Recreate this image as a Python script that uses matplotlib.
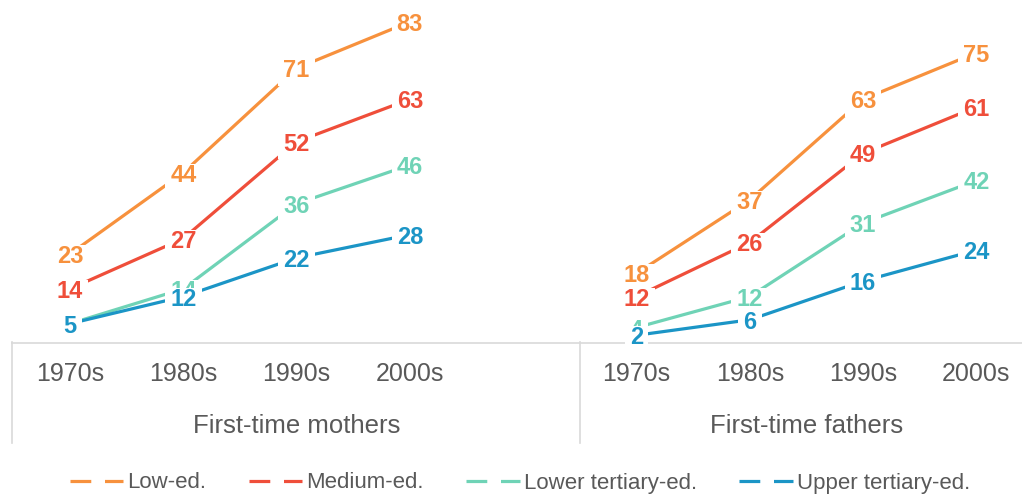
import matplotlib
matplotlib.use("Agg")
import matplotlib.pyplot as plt
from matplotlib.transforms import blended_transform_factory
from matplotlib.lines import Line2D
from matplotlib.path import Path

plt.rcParams['font.family'] = ['Liberation Sans', 'DejaVu Sans']

decades = ["1970s", "1980s", "1990s", "2000s"]
groups = ["First-time mothers", "First-time fathers"]
series_names = ["Low-ed.", "Medium-ed.", "Lower tertiary-ed.", "Upper tertiary-ed."]
colors = ["#F7913D", "#EF4E3A", "#6FD3B6", "#1B95C6"]

mothers_low = [23, 44, 71, 83]
mothers_medium = [14, 27, 52, 63]
mothers_lower_tert = [5, 14, 36, 46]
mothers_upper_tert = [5, 12, 22, 28]

fathers_low = [18, 37, 63, 75]
fathers_medium = [12, 26, 49, 61]
fathers_lower_tert = [4, 12, 31, 42]
fathers_upper_tert = [2, 6, 16, 24]

mothers = [mothers_low, mothers_medium, mothers_lower_tert, mothers_upper_tert]
fathers = [fathers_low, fathers_medium, fathers_lower_tert, fathers_upper_tert]


def label_box(x0, y0, width, height, mutation_size):
    padx = 0.22 * mutation_size
    top = 0.0
    bottom = 0.15 * mutation_size
    verts = [(x0 - padx, y0 - bottom), (x0 + width + padx, y0 - bottom),
             (x0 + width + padx, y0 + height + top), (x0 - padx, y0 + height + top),
             (x0 - padx, y0 - bottom)]
    return Path(verts, closed=True)


W, H = 1022, 495
fig = plt.figure(figsize=(W / 100, H / 100), dpi=100)
fig.patch.set_facecolor("white")

unit = 113.3
x0px = 70
left_px = 12
base_px = 343
ypx = 3.87
ax = fig.add_axes([left_px / W, (H - base_px) / H, (W - left_px) / W, base_px / H])
ax.set_xlim((left_px - x0px) / unit, (W - x0px) / unit)
ax.set_ylim(0, base_px / ypx)

mx = [0, 1, 2, 3]
fx = [5, 6, 7, 8]

for i, (name, col) in enumerate(zip(series_names, colors)):
    for xs, vals in ((mx, mothers[i]), (fx, fathers[i])):
        ax.plot(xs, vals, color=col, lw=2.3, solid_capstyle='butt',
                zorder=2 + 2 * i, clip_on=False)
        for x, v in zip(xs, vals):
            ax.text(x, v, str(v), ha='center', va='center_baseline', fontsize=17,
                    fontweight='bold', color=col, zorder=3 + 2 * i,
                    bbox=dict(boxstyle=label_box, fc='white', ec='none'),
                    clip_on=False)

for s in ['top', 'right', 'left']:
    ax.spines[s].set_visible(False)
ax.spines['bottom'].set_color('#D9D9D9')
ax.spines['bottom'].set_linewidth(1.2)
ax.spines['bottom'].set_zorder(1)
ax.set_yticks([])
ax.set_xticks(mx + fx)
ax.set_xticklabels(decades + decades, fontsize=18, color='#595959')
ax.tick_params(axis='x', length=0, pad=14)

tr = blended_transform_factory(ax.transData, fig.transFigure)
for xs in (-0.512, 4.5):
    ax.plot([xs, xs], [1 - 342 / H, 1 - 443 / H], color='#D9D9D9', lw=1.2,
            transform=tr, clip_on=False, zorder=1)
for gx, g in zip((2, 6.5), groups):
    ax.text(gx, 1 - 426 / H, g, transform=tr, ha='center', va='center',
            fontsize=18.5, color='#595959')

lh = [Line2D([0], [0], color=c, lw=2.3, linestyle=(0, (6.5, 4.3))) for c in colors]
fig.legend(lh, series_names, loc='center', bbox_to_anchor=(520 / W, 1 - 483 / H),
           ncol=4, frameon=False, fontsize=16, handlelength=2.4,
           handletextpad=0.2, columnspacing=1.9, labelcolor='#595959')

fig.savefig("out.png", dpi=100, facecolor='white')
